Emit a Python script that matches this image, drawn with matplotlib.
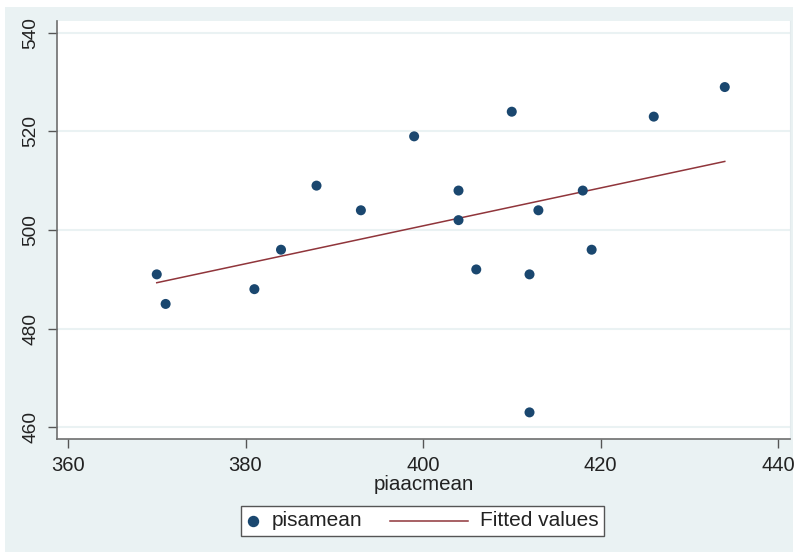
import matplotlib
matplotlib.use("Agg")
import matplotlib.pyplot as plt
import numpy as np
from matplotlib.patches import Rectangle
from matplotlib.lines import Line2D
from matplotlib.offsetbox import AnchoredOffsetbox, DrawingArea, TextArea, HPacker

plt.rcParams['font.family'] = ['Liberation Sans', 'DejaVu Sans']

# data
piaacmean = [370, 371, 381, 384, 388, 393, 399, 404, 404, 406, 410, 412, 413, 418, 419, 426, 434, 412]
pisamean = [491, 485, 488, 496, 509, 504, 519, 508, 502, 492, 524, 491, 504, 508, 496, 523, 529, 463]
xticks = [360, 380, 400, 420, 440]
yticks = [460, 480, 500, 520, 540]

navy = '#1a476f'
maroon = '#90353b'
bg = '#eaf2f3'
txt = '#222222'

fig = plt.figure(figsize=(7.94, 5.53), dpi=100, facecolor='white')
fig.add_artist(Rectangle((5/794, 1/553), 788/794, 545/553, transform=fig.transFigure,
                         facecolor=bg, edgecolor='none', zorder=-5))

ax = fig.add_axes([57/794, 1 - 439/553, 733/794, 418/553])
ax.set_facecolor('white')

# linear fit (Stata "Fitted values")
x = np.array(piaacmean, dtype=float)
y = np.array(pisamean, dtype=float)
b, a = np.polyfit(x, y, 1)
xs = np.sort(x)
ax.plot(xs, a + b * xs, color=maroon, lw=1.1, zorder=2)
ax.scatter(x, y, s=52, color=navy, edgecolors='none', zorder=3)

ax.set_xlim(358.76, 441.35)
ax.set_ylim(457.6, 542.4)
ax.set_xticks(xticks)
ax.set_yticks(yticks)
ax.tick_params(axis='both', colors='#555555', labelcolor=txt, length=6.5, width=1, pad=6)
ax.tick_params(axis='x', labelsize=14.5)
ax.tick_params(axis='y', labelsize=13.8)
for lab in ax.get_yticklabels():
    lab.set_rotation(90)
    lab.set_va('center')
ax.grid(axis='y', color=bg, lw=1.5)
ax.set_axisbelow(True)

for s in ['left', 'bottom']:
    ax.spines[s].set_color('#6e6e6e')
    ax.spines[s].set_linewidth(1.2)
ax.spines['top'].set_visible(False)
ax.spines['right'].set_color('#e3ebed')

ax.set_xlabel('piaacmean', fontsize=14.8, color=txt, labelpad=0)

# legend box below the plot
dot = DrawingArea(10, 10)
dot.add_artist(Line2D([5], [5], marker='o', markersize=7.2, color=navy, linestyle='none'))
seg = DrawingArea(69, 10)
seg.add_artist(Line2D([12, 68], [5, 5], color=maroon, lw=1.1))
items = HPacker(children=[dot, TextArea('pisamean', textprops=dict(fontsize=15, color=txt)),
                          seg, TextArea('Fitted values', textprops=dict(fontsize=15, color=txt))],
                align='center', pad=0, sep=8)
leg = AnchoredOffsetbox(loc='center', child=items, pad=0.4, borderpad=0, frameon=True,
                        bbox_to_anchor=(422.5/794, 1 - 521/553), bbox_transform=fig.transFigure)
leg.patch.set_edgecolor('#555555')
leg.patch.set_linewidth(1.0)
leg.patch.set_boxstyle('square', pad=0)
fig.add_artist(leg)

fig.savefig('out.png', dpi=100, facecolor='white')
